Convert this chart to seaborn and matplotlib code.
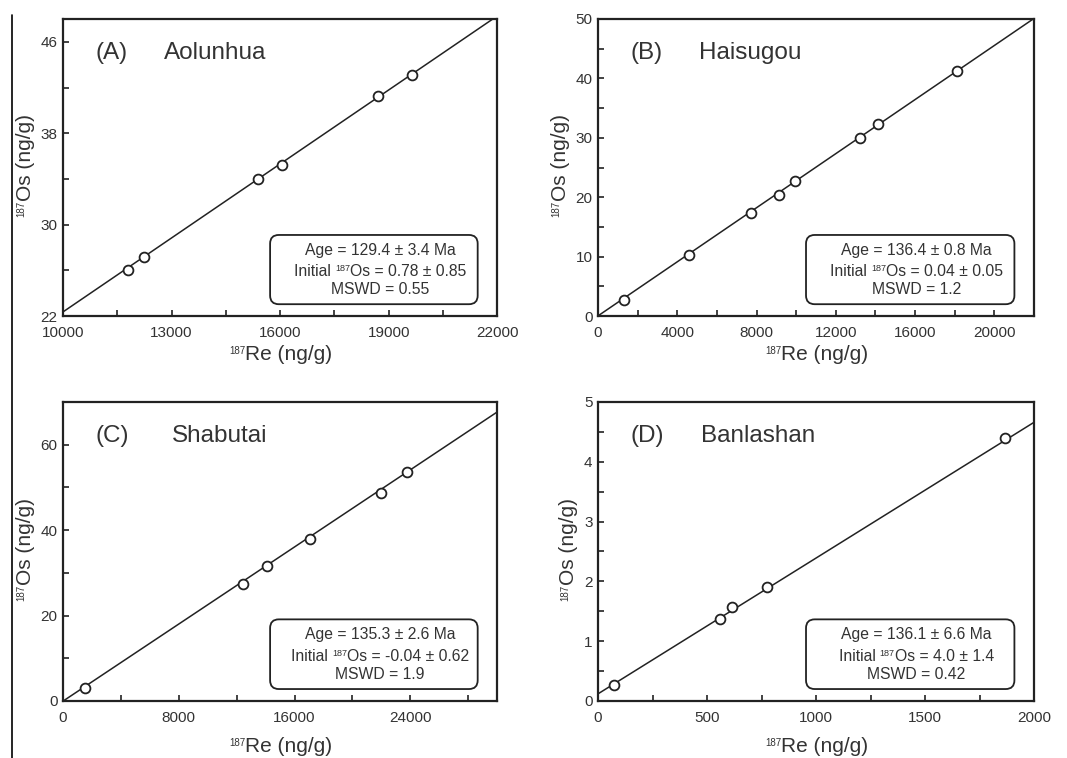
import numpy as np
import matplotlib.pyplot as plt
import seaborn as sns
from matplotlib.patches import FancyBboxPatch
from matplotlib.lines import Line2D
from matplotlib.ticker import FixedLocator
from matplotlib.offsetbox import TextArea, HPacker, AnnotationBbox


# Style
sns.set_style("ticks")
plt.rcParams['font.family'] = ['Liberation Sans', 'DejaVu Sans']

TEXT = '#333333'
INK = '#222222'

# Re-Os data (187Re, 187Os in ng/g)
re_a = [11800, 12250, 15400, 16050, 18700, 19650]
os_a = [26.0, 27.2, 34.0, 35.2, 41.3, 43.1]

re_b = [1310, 4590, 7700, 9130, 9920, 13240, 14120, 18120]
os_b = [2.7, 10.2, 17.3, 20.3, 22.7, 29.9, 32.3, 41.3]

re_c = [1550, 12430, 14120, 17080, 21940, 23770]
os_c = [3.1, 27.3, 31.6, 37.9, 48.7, 53.6]

re_d = [73, 561, 615, 775, 1868]
os_d = [0.26, 1.37, 1.57, 1.91, 4.39]

panel_tags = ['(A)', '(B)', '(C)', '(D)']
deposits = ['Aolunhua', 'Haisugou', 'Shabutai', 'Banlashan']
name_x = [0.232, 0.232, 0.25, 0.236]

ages = [129.4, 136.4, 135.3, 136.1]
age_err = [3.4, 0.8, 2.6, 6.6]
initial_txt = ['0.78 ± 0.85', '0.04 ± 0.05', '-0.04 ± 0.62', '4.0 ± 1.4']
mswd = ['0.55', '1.2', '1.9', '0.42']
# isochron intercepts as drawn on the plots
line_intercepts = [0.78, 0.04, -0.04, 0.12]

# Axis limits and ticks
xlims = [(10000, 22000), (0, 22000), (0, 30000), (0, 2000)]
ylims = [(22, 48), (0, 50), (0, 70), (0, 5)]
xmajor = [[10000, 13000, 16000, 19000, 22000],
          [0, 4000, 8000, 12000, 16000, 20000],
          [0, 8000, 16000, 24000],
          [0, 500, 1000, 1500, 2000]]
xminor = [[11500, 14500, 17500, 20500],
          [2000, 6000, 10000, 14000, 18000],
          [4000, 12000, 20000, 28000],
          [250, 750, 1250, 1750]]
ymajor = [[22, 30, 38, 46],
          [0, 10, 20, 30, 40, 50],
          [0, 20, 40, 60],
          [0, 1, 2, 3, 4, 5]]
yminor = [[26, 34, 42],
          [5, 15, 25, 35, 45],
          [10, 30, 50],
          [0.5, 1.5, 2.5, 3.5, 4.5]]

DECAY = 1.666e-11  # 187Re decay constant (1/yr)

fig = plt.figure(figsize=(10.67, 7.58), dpi=100)
positions = [[0.059, 0.583, 0.407, 0.392],
             [0.5605, 0.583, 0.4086, 0.392],
             [0.059, 0.0752, 0.407, 0.3945],
             [0.5605, 0.0752, 0.4086, 0.3945]]
xlabel_pads = [4, 4, 9, 9]

re_all = [re_a, re_b, re_c, re_d]
os_all = [os_a, os_b, os_c, os_d]

BOX_FS = 11.3

for i, pos in enumerate(positions):
    ax = fig.add_axes(pos)
    ax.set_xlim(xlims[i])
    ax.set_ylim(ylims[i])

    # isochron line
    slope = np.exp(DECAY * ages[i] * 1e6) - 1
    xl = np.array(xlims[i], dtype=float)
    ax.plot(xl, line_intercepts[i] + slope * xl, color=INK, lw=1.1, zorder=2)

    sns.scatterplot(x=re_all[i], y=os_all[i], ax=ax, s=50, color='white',
                    edgecolor=INK, linewidth=1.3, zorder=3, legend=False)

    ax.xaxis.set_major_locator(FixedLocator(xmajor[i]))
    ax.xaxis.set_minor_locator(FixedLocator(xminor[i]))
    ax.yaxis.set_major_locator(FixedLocator(ymajor[i]))
    ax.yaxis.set_minor_locator(FixedLocator(yminor[i]))
    ax.tick_params(which='both', direction='in', length=4, width=1.2,
                   color=INK, labelcolor=TEXT, labelsize=11)
    ax.tick_params(axis='x', which='major', pad=7)
    ax.tick_params(axis='y', which='major', pad=4)
    for sp in ax.spines.values():
        sp.set_linewidth(1.6)
        sp.set_color(INK)
        sp.set_visible(True)

    # axis labels with a small 187 superscript
    ax.set_xlabel('Re (ng/g)', fontsize=15, color=TEXT, labelpad=xlabel_pads[i])
    ax.set_ylabel('Os (ng/g)', fontsize=15, color=TEXT, labelpad=4)
    ax.xaxis.label.set_x(0.52)
    ax.yaxis.label.set_y(0.534)
    ax.annotate('187', xy=(0, 0.97), xycoords=ax.xaxis.label, ha='right',
                va='top', fontsize=7, color=TEXT)
    ax.annotate('187', xy=(0.03, 0), xycoords=ax.yaxis.label, ha='left',
                va='top', fontsize=7, color=TEXT, rotation=90)

    ax.text(0.074, 0.885, panel_tags[i], transform=ax.transAxes, fontsize=17.5,
            color=TEXT, va='center', ha='left')
    ax.text(name_x[i], 0.885, deposits[i], transform=ax.transAxes,
            fontsize=17.5, color=TEXT, va='center', ha='left')

    # result box
    box = FancyBboxPatch((0.477, 0.04), 0.478, 0.233,
                         boxstyle='round,pad=0,rounding_size=0.02',
                         mutation_aspect=1.46, transform=ax.transAxes,
                         facecolor='white', edgecolor=INK, lw=1.3, zorder=4)
    ax.add_patch(box)
    cx = 0.73
    ax.text(cx, 0.222, f'Age = {ages[i]} ± {age_err[i]} Ma', transform=ax.transAxes,
            fontsize=BOX_FS, color=TEXT, ha='center', va='center', zorder=5)
    line2 = HPacker(children=[
        TextArea('Initial ', textprops=dict(fontsize=BOX_FS, color=TEXT)),
        TextArea('187', textprops=dict(fontsize=6.5, color=TEXT)),
        TextArea('Os = ' + initial_txt[i], textprops=dict(fontsize=BOX_FS, color=TEXT)),
    ], align='top', pad=0, sep=0)
    ab = AnnotationBbox(line2, (cx, 0.150), xycoords=ax.transAxes, frameon=False,
                        box_alignment=(0.5, 0.5), pad=0, zorder=5)
    ax.add_artist(ab)
    ax.text(cx, 0.088, f'MSWD = {mswd[i]}', transform=ax.transAxes,
            fontsize=BOX_FS, color=TEXT, ha='center', va='center', zorder=5)

# stray vertical rule at the left edge of the original figure
fig.add_artist(Line2D([12 / 1067, 12 / 1067], [0, 1 - 15 / 758],
                      transform=fig.transFigure, color='black', lw=1.2))

fig.savefig('out.png', dpi=100)
